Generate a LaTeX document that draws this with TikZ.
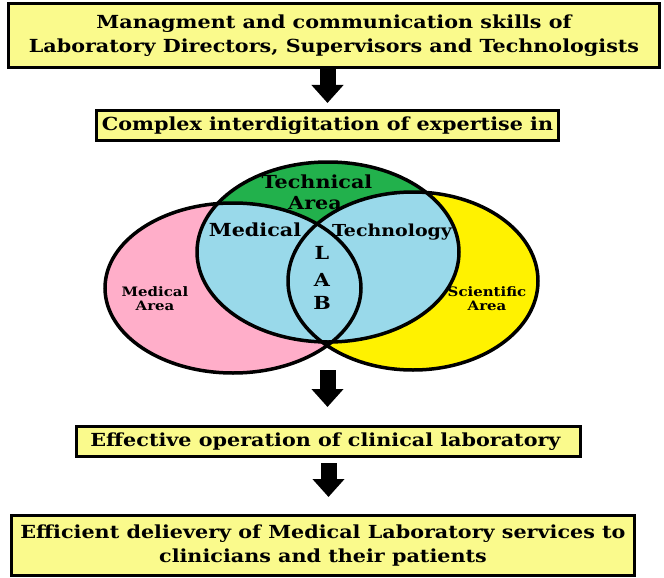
\documentclass[tikz,border=0pt]{standalone}
\usepackage{fontspec}
\setmainfont{DejaVu Serif}[FakeStretch=1.15]
\usetikzlibrary{arrows.meta}

\definecolor{boxyellow}{RGB}{250,250,140}
\definecolor{labpink}{RGB}{255,174,201}
\definecolor{labyellow}{RGB}{255,242,0}
\definecolor{labgreen}{RGB}{34,177,76}
\definecolor{labblue}{RGB}{153,217,234}

\begin{document}
\begin{tikzpicture}[
        x=1pt, y=-1pt,
        box/.style={draw, line width=3pt, fill=boxyellow, align=center, inner sep=0pt,
            font=\bfseries\fontsize{18}{24.5}\selectfont},
        bigarrow/.style={line width=16pt, -{Triangle[width=31pt,length=18pt]}},
        ring/.style={draw, line width=3.5pt}]

    \tikzstyle{bigtext}=[font=\bfseries\fontsize{18}{20}\selectfont, inner sep=0pt]
    \tikzstyle{smalltext}=[font=\bfseries\fontsize{13}{14}\selectfont, inner sep=0pt, align=center]

    \useasboundingbox (0,0) rectangle (664,578);

    \node[box, minimum width=651, minimum height=64] (mgmt) at (334,35.5)
        {Managment and communication skills of\\ Laboratory Directors, Supervisors and Technologists};
    \node[box, minimum width=462, minimum height=30] (cplx) at (327.5,125.5)
        {Complex interdigitation of expertise in};
    \node[box, minimum width=504, minimum height=30] (oper) at (328.5,441.5)
        {Effective operation of clinical laboratory\hspace*{6pt}};
    \node[box, minimum width=623, minimum height=60] (deliv) at (323,545.5)
        {Efficient delievery of Medical Laboratory services to\\ clinicians and their patients};

    % the three areas
    \coordinate (med) at (233,288);
    \coordinate (sci) at (413,281);
    \coordinate (tec) at (328,252);
    \coordinate (venn) at (327.5,370);

    \fill[labpink] (med) ellipse [x radius=128, y radius=85];
    \fill[labyellow] (sci) ellipse [x radius=125, y radius=89];
    \fill[labgreen] (tec) ellipse [x radius=131, y radius=90];
    \begin{scope}
        \clip (tec) ellipse [x radius=131, y radius=90];
        \fill[labblue] (med) ellipse [x radius=128, y radius=85];
        \fill[labblue] (sci) ellipse [x radius=125, y radius=89];
    \end{scope}
    \begin{scope}
        \clip (med) ellipse [x radius=128, y radius=85];
        \fill[labblue] (sci) ellipse [x radius=125, y radius=89];
    \end{scope}
    \draw[ring] (med) ellipse [x radius=128, y radius=85];
    \draw[ring] (sci) ellipse [x radius=125, y radius=89];
    \draw[ring] (tec) ellipse [x radius=131, y radius=90];

    \node[bigtext] (techn) at (317,182) {Technical};
    \node[bigtext] (techa) at (315,203) {Area};
    \node[bigtext] (medl) at (255,230) {Medical};
    \node[bigtext, font=\bfseries\fontsize{16.5}{20}\selectfont] (tecl) at (392,232) {Technology};
    \node[bigtext] (labl) at (322,253) {L};
    \node[bigtext] (laba) at (322,280) {A};
    \node[bigtext] (labb) at (322,303) {B};
    \node[smalltext] (meda) at (155,299) {Medical\\ Area};
    \node[smalltext] (scia) at (487,299) {Scientific\\ Area};

    \draw[bigarrow, shorten >=6pt] (mgmt.south -| cplx) -- (cplx.north);
    \draw[bigarrow, shorten >=18pt] (venn) -- (venn |- oper.north);
    \draw[bigarrow, shorten <=5pt, shorten >=17pt] (oper.south) -- (oper.south |- deliv.north);
\end{tikzpicture}
\end{document}
